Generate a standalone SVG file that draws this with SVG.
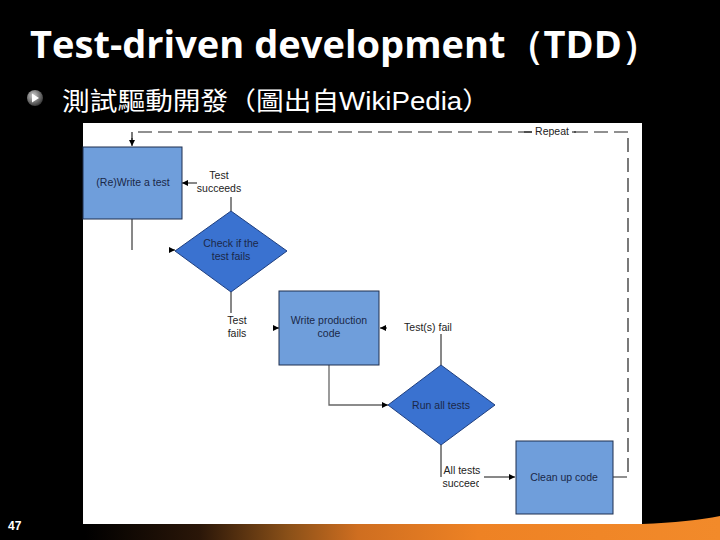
<svg xmlns="http://www.w3.org/2000/svg" width="720" height="540" viewBox="0 0 720 540">
<defs>
<linearGradient id="bar" gradientUnits="userSpaceOnUse" x1="85" y1="0" x2="720" y2="0">
<stop offset="0" stop-color="#000000"/>
<stop offset="0.18" stop-color="#2a1608"/>
<stop offset="0.32" stop-color="#8a5018"/>
<stop offset="0.43" stop-color="#cf6e20"/>
<stop offset="0.62" stop-color="#ee8224"/>
<stop offset="1" stop-color="#f28a2a"/>
</linearGradient>
<radialGradient id="ball" cx="0.4" cy="0.35" r="0.7">
<stop offset="0" stop-color="#d0d0d0"/>
<stop offset="0.6" stop-color="#707070"/>
<stop offset="1" stop-color="#303030"/>
</radialGradient>
<marker id="ah" viewBox="0 0 10 10" refX="10" refY="5" markerWidth="6" markerHeight="6" markerUnits="userSpaceOnUse" orient="auto">
<path d="M0,0 L10,5 L0,10 Z" fill="#000"/>
</marker>
<clipPath id="clipSucceed"><rect x="430" y="470" width="49" height="20"/></clipPath>
<style>
.title{font-family:"Open Sans","Liberation Sans",sans-serif;font-weight:bold;fill:#fff}
.sub{font-family:"Liberation Sans","Noto Sans CJK TC",sans-serif;fill:#fff}
.box{fill:#6f9edb;stroke:#1f2f4f;stroke-width:1}
.dia{fill:#3a72d0;stroke:#1f3f7f;stroke-width:1}
.nt{font-family:"Liberation Sans",Arial,sans-serif;font-size:10.5px;fill:#1a2848;text-anchor:middle}
.lt{font-family:"Liberation Sans",Arial,sans-serif;font-size:10.5px;fill:#222;text-anchor:middle}
.ln{fill:none;stroke:#111;stroke-width:1}
.gr{fill:none;stroke:#666;stroke-width:1.3}
.dash{fill:none;stroke:#222;stroke-width:1.2;stroke-dasharray:14 6}
</style>
</defs>
<rect x="0" y="0" width="720" height="540" fill="#000"/>
<text class="title" x="30" y="58" font-size="38" textLength="630" lengthAdjust="spacingAndGlyphs">Test-driven development（TDD）</text>
<g id="bullet">
<circle cx="35" cy="98" r="8" fill="url(#ball)"/>
<path d="M32,93.5 L39,98 L32,102.5 Z" fill="#fff"/>
</g>
<text class="sub" x="62" y="110" font-size="25" textLength="428" lengthAdjust="spacingAndGlyphs">測試驅動開發（圖出自WikiPedia）</text>
<rect x="83" y="123" width="559" height="401" fill="#fff"/>
<path d="M83,524 L642,524 Q690,522 720,516 L720,540 L83,540 Z" fill="url(#bar)"/>
<text x="8" y="530" font-family="Liberation Sans,sans-serif" font-weight="bold" font-size="12" fill="#fff">47</text>

<g id="connectors">
<path class="dash" d="M613,477 H628 V132 H572"/>
<path class="ln" d="M572,132 H576"/>
<path class="dash" d="M532,132 H132 V142"/>
<path class="ln" d="M524,132 H532"/>
<path class="ln" d="M132,138 V146" marker-end="url(#ah)"/>
<path class="ln" d="M132,219 V250"/>
<path class="ln" d="M169,250 H175" marker-end="url(#ah)"/>
<path class="ln" d="M231,211 V197"/>
<path class="ln" d="M197,183 H182" marker-end="url(#ah)"/>
<path class="ln" d="M231,292 V313"/>
<path class="ln" d="M273,328 H279" marker-end="url(#ah)"/>
<path class="ln" d="M387,328 H380" marker-end="url(#ah)"/>
<path class="ln" d="M441,334 V365"/>
<path class="gr" d="M329,365 V405 H388" marker-end="url(#ah)"/>
<path class="ln" d="M441,445 V477"/>
<path class="ln" d="M484,477 H515" marker-end="url(#ah)"/>
</g>

<g id="write-test">
<rect class="box" x="83" y="147" width="99" height="72"/>
<text class="nt" x="133" y="186">(Re)Write a test</text>
</g>
<g id="check-fails">
<path class="dia" d="M231,211 L287,251 L231,292 L175,251 Z"/>
<text class="nt" x="231" y="247">Check if the</text>
<text class="nt" x="231" y="260">test fails</text>
</g>
<g id="write-code">
<rect class="box" x="279" y="291" width="100" height="74"/>
<text class="nt" x="329" y="324">Write production</text>
<text class="nt" x="329" y="337">code</text>
</g>
<g id="run-tests">
<path class="dia" d="M441,365 L495,405 L441,445 L388,405 Z"/>
<text class="nt" x="441" y="409">Run all tests</text>
</g>
<g id="clean-up">
<rect class="box" x="516" y="441" width="97" height="73"/>
<text class="nt" x="564" y="481">Clean up code</text>
</g>

<g id="labels">
<text class="lt" x="219" y="179">Test</text>
<text class="lt" x="219" y="192">succeeds</text>
<text class="lt" x="237" y="324">Test</text>
<text class="lt" x="237" y="337">fails</text>
<text class="lt" x="428" y="331">Test(s) fail</text>
<text class="lt" x="462" y="474">All tests</text>
<text class="lt" x="462" y="487" clip-path="url(#clipSucceed)">succeed</text>
<text class="lt" x="552" y="135">Repeat</text>
</g>
</svg>
